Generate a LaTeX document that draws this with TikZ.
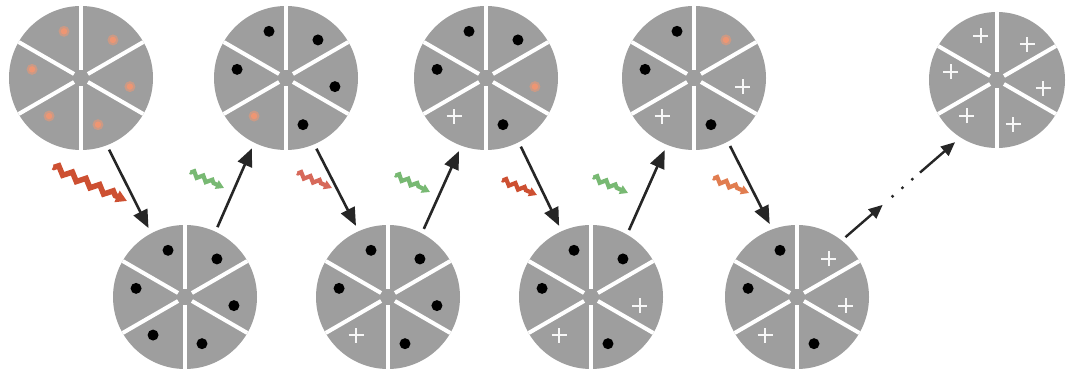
\documentclass[tikz,border=0pt]{standalone}
\usetikzlibrary{calc,arrows.meta,decorations.pathmorphing}
\definecolor{circgray}{RGB}{158,158,158}
\definecolor{orgdot}{RGB}{238,150,115}
\definecolor{pulsered}{RGB}{205,80,50}
\definecolor{pulsegreen}{RGB}{120,185,115}
\definecolor{pulsepink}{RGB}{215,105,90}
\definecolor{pulseorange}{RGB}{225,125,80}
\tikzset{
  dishnode/.style={circle, fill=circgray, draw=none, inner sep=0pt, outer sep=0pt},
  divider/.style={white, line width=4pt},
  crossmark/.style={draw=white!92!circgray, line width=1.8pt},
  flowarrow/.style={draw=black!85, line width=2.6pt, -{Triangle[length=18pt,width=15pt]}, shorten <=5pt, shorten >=6pt},
  smallarrow/.style={draw=black!85, line width=2.4pt, -{Triangle[length=14pt,width=12pt]}},
  pulse/.style={line width=4.2pt, -{Triangle[length=8pt,width=9pt]}, decorate,
    decoration={zigzag, segment length=10pt, amplitude=2.5pt, pre length=1pt, post length=8pt}},
  bigpulse/.style={line width=5.5pt, -{Triangle[length=11pt,width=12pt]}, decorate,
    decoration={zigzag, segment length=15pt, amplitude=3.5pt, pre length=1pt, post length=11pt}},
}
\newcommand{\dish}[5]{%
  \node[dishnode, minimum size={2*#4pt}] (#1) at (#2,#3) {};
  \foreach \a in {30,90,...,330}
    \draw[divider] ($(#1.center)+(\a:8)$) -- ($(#1.center)+(\a:{#4})$);
  \foreach \t [count=\i] in {#5} {
    \pgfmathsetmacro\ang{60*\i-70}
    \coordinate (p) at ($(#1.center)+(\ang:{0.69*#4})$);
    \if b\t \fill[black] (p) circle (5.5); \fi
    \if o\t \fill[orgdot!55!circgray] (p) circle (5.5); \fill[orgdot] (p) circle (3.2); \fi
    \if c\t
      \draw[crossmark] ($(p)+(-7.5,0)$) -- ($(p)+(7.5,0)$);
      \draw[crossmark] ($(p)+(0,-7.5)$) -- ($(p)+(0,7.5)$);
    \fi
  }
}
\begin{document}
\begin{tikzpicture}[x=1pt,y=1pt]
  \fill[white] (0,0) rectangle (1066,369);
  \useasboundingbox (0,0) rectangle (1066,369);
  % dishes: sectors in order R, UR, UL, L, LL, LR
  \dish{t1}{81}{291}{72}{o,o,o,o,o,o}
  \dish{b1}{185}{72}{72}{b,b,b,b,b,b}
  \dish{t2}{286}{291}{72}{b,b,b,b,o,b}
  \dish{b2}{388}{72}{72}{b,b,b,b,c,b}
  \dish{t3}{486}{291}{72}{o,b,b,b,c,b}
  \dish{b3}{591}{72}{72}{c,b,b,b,c,b}
  \dish{t4}{694}{291}{72}{c,o,b,b,c,b}
  \dish{b4}{797}{72}{72}{c,c,b,b,c,b}
  \dish{t5}{997}{289}{68}{c,c,c,c,c,c}
  % flow arrows
  \draw[flowarrow] (t1.-69) -- (b1.118);
  \draw[flowarrow] (b1.65) -- (t2.-116);
  \draw[flowarrow] (t2.-67) -- (b2.114);
  \draw[flowarrow] (b2.62) -- (t3.-110);
  \draw[flowarrow] (t3.-63) -- (b3.114);
  \draw[flowarrow] (b3.60) -- (t4.-112);
  \draw[flowarrow] (t4.-62) -- (b4.110);
  % dotted continuation arrow
  \coordinate (s) at ($(b4.center)+(51:77)$);
  \coordinate (e) at ($(t5.center)+(236:75)$);
  \draw[smallarrow] (s) -- ($(s)!0.34!(e)$);
  \foreach \f in {0.43,0.52,0.61} \fill[black!85] ($(s)!\f!(e)$) circle (1.7);
  \draw[smallarrow] ($(s)!0.68!(e)$) -- (e);
  % light pulses
  \coordinate (w1s) at (53,202);  \coordinate (w1e) at (127,168);
  \coordinate (w2s) at (190,197); \coordinate (w2e) at (224,181);
  \coordinate (w3s) at (297,196); \coordinate (w3e) at (332,181);
  \coordinate (w4s) at (395,194); \coordinate (w4e) at (430,177);
  \coordinate (w5s) at (502,189); \coordinate (w5e) at (537,174);
  \coordinate (w6s) at (593,192); \coordinate (w6e) at (628,176);
  \coordinate (w7s) at (713,191); \coordinate (w7e) at (749,176);
  \draw[bigpulse, pulsered] (w1s) -- (w1e);
  \draw[pulse, pulsegreen] (w2s) -- (w2e);
  \draw[pulse, pulsepink] (w3s) -- (w3e);
  \draw[pulse, pulsegreen] (w4s) -- (w4e);
  \draw[pulse, pulsered] (w5s) -- (w5e);
  \draw[pulse, pulsegreen] (w6s) -- (w6e);
  \draw[pulse, pulseorange] (w7s) -- (w7e);
\end{tikzpicture}
\end{document}
